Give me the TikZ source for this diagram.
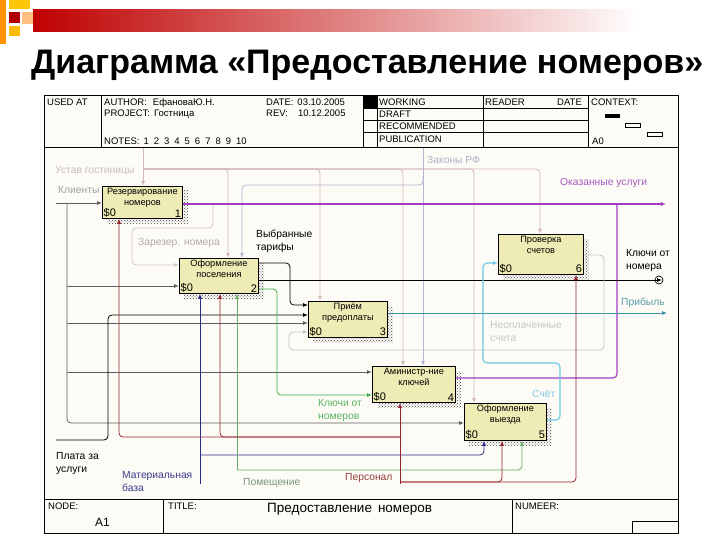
\documentclass[tikz,border=0pt]{standalone}
\usepackage{fontspec}
\setmainfont{Liberation Sans}
\usetikzlibrary{arrows.meta,patterns,calc}
\definecolor{cream}{RGB}{252,251,246}
\definecolor{boxfill}{RGB}{238,236,180}
\definecolor{cgray}{RGB}{95,95,95}
\definecolor{lgray}{RGB}{160,160,160}
\definecolor{ust}{RGB}{214,184,184}
\definecolor{ustl}{RGB}{200,188,188}
\definecolor{zak}{RGB}{182,182,212}
\definecolor{zakl}{RGB}{178,178,198}
\definecolor{zar}{RGB}{208,200,200}
\definecolor{pur}{RGB}{165,60,200}
\definecolor{purl}{RGB}{165,90,195}
\definecolor{tealc}{RGB}{60,145,160}
\definecolor{teall}{RGB}{90,155,170}
\definecolor{cyn}{RGB}{105,200,228}
\definecolor{cynl}{RGB}{130,200,225}
\definecolor{neo}{RGB}{198,198,198}
\definecolor{grn}{RGB}{55,175,75}
\definecolor{grnl}{RGB}{90,180,100}
\definecolor{grn2}{RGB}{105,170,105}
\definecolor{grn2l}{RGB}{120,150,120}
\definecolor{blu}{RGB}{40,40,140}
\definecolor{blul}{RGB}{60,60,140}
\definecolor{redc}{RGB}{150,35,45}
\definecolor{redl}{RGB}{150,60,60}
\tikzset{
  arr/.style={-{Latex[length=5pt,width=4pt]}},
  ln/.style={line width=0.8pt, rounded corners=4pt},
  boxst/.style={draw, fill=boxfill, line width=0.8pt, inner sep=0pt},
  boxtitle/.style={font=\fontsize{9.2}{10.5}\selectfont, align=center, inner sep=0.5pt},
  boxcost/.style={font=\fontsize{11}{11}\selectfont, inner sep=1.5pt},
  lbl/.style={font=\fontsize{10.3}{13}\selectfont, inner sep=0pt, anchor=base west, align=left},
  hd/.style={font=\fontsize{9.5}{11}\selectfont, inner sep=0pt, anchor=base west},
  shad/.style={pattern=crosshatch dots, pattern color=black!75}
}
\newcommand\idefbox[7]{%
  \node[boxst, minimum width=#4pt, minimum height=#5pt, anchor=north west] (#1) at (#2,#3) {};
  \fill[shad] ($(#1.north east)+(0.5,5)$) rectangle ($(#1.south east)+(5,5)$);
  \fill[shad] ($(#1.south west)+(5,0.5)$) rectangle ($(#1.south east)+(0.5,5)$);
  \node[boxtitle, anchor=north] (#1t) at ($(#1.north)+(0,1.5)$) {#6};
  \node[boxcost, anchor=south west] (#1c) at (#1.south west) {\$0};
  \node[boxcost, anchor=south east] (#1n) at (#1.south east) {#7};
}
\begin{document}
\begin{tikzpicture}[x=1pt,y=-1pt]
\useasboundingbox (0,0) rectangle (720,540);
\fill[white] (0,0) rectangle (720,540);
% top decoration
\shade[left color=red!75!black, right color=white] (33,10) rectangle (640,32);
\fill[white] (640,10) rectangle (720,32);
\fill[orange!85!yellow] (0,0) rectangle (6,44);
\fill[yellow!60!orange] (9,0) rectangle (30,9);
\fill[red!70!black] (9,12) rectangle (20,23);
\fill[orange!50!white] (22,12) rectangle (33,24);
\fill[yellow!50!orange] (9,26) rectangle (20,36);
% title
\node[anchor=base west, inner sep=0pt, font=\bfseries\fontsize{34}{34}\selectfont] (title) at (31,74) {Диаграмма «Предоставление номеров»};
% frame
\fill[cream] (44,95) rectangle (678,533);
\draw[line width=0.8pt] (44,95) rectangle (678,533);
\draw[line width=0.8pt] (44,147) -- (678,147);
\draw[line width=0.8pt] (44,499) -- (678,499);
\foreach \xx in {101,363,377,483,588} \draw[line width=0.8pt] (\xx,95) -- (\xx,147);
\foreach \yy in {108,120,132} \draw[line width=0.6pt] (363,\yy) -- (588,\yy);
\fill (363,95) rectangle (377,108);
\draw[line width=0.8pt] (163,499) -- (163,533);
\draw[line width=0.8pt] (512,499) -- (512,533);
\draw[line width=0.8pt] (632,521) -- (632,533);
\draw[line width=0.8pt] (632,521) -- (678,521);
% context marks
\fill (605,114) rectangle (620,118);
\draw[line width=0.6pt] (625,123) rectangle (640,127);
\draw[line width=0.6pt] (647,132) rectangle (662,136);
% header text
\node[hd] (usedat) at (47,106) {USED AT};
\node[hd] (author) at (104,106) {AUTHOR:\hspace{6pt}ЕфановаЮ.Н.};
\node[hd] (project) at (104,117) {PROJECT:\hspace{4pt}Гостница};
\node[hd] (date) at (266,106) {DATE:\hspace{4pt}03.10.2005};
\node[hd] (rev) at (266,117) {REV:\hspace{10pt}10.12.2005};
\node[hd] (notes) at (104,145) {NOTES:\hspace{4pt}1\hspace{5pt}2\hspace{5pt}3\hspace{5pt}4\hspace{5pt}5\hspace{5pt}6\hspace{5pt}7\hspace{5pt}8\hspace{5pt}9\hspace{5pt}10};
\node[hd] (working) at (379,106) {WORKING};
\node[hd] (draft) at (379,118) {DRAFT};
\node[hd] (recom) at (379,130) {RECOMMENDED};
\node[hd] (publ) at (379,143) {PUBLICATION};
\node[hd] (reader) at (485,106) {READER};
\node[hd] (rdate) at (557,106) {DATE};
\node[hd] (context) at (591,106) {CONTEXT:};
\node[hd] (a0) at (592,145) {A0};
% footer text
\node[hd] (nodel) at (48,509) {NODE:};
\node[hd, font=\fontsize{12}{12}\selectfont] (a1) at (95,526) {A1};
\node[hd] (titlel) at (168,509) {TITLE:};
\node[hd, font=\fontsize{13.5}{13.5}\selectfont] (ftitle) at (267,512) {Предоставление\hspace{6pt}номеров};
\node[hd] (numeer) at (515,509) {NUMEER:};
% boxes
\idefbox{b1}{102}{186}{80}{32}{Резервирование\\номеров}{1}
\idefbox{b2}{179}{258}{79}{35}{Оформление\\поселения}{2}
\idefbox{b3}{308}{301}{79}{36}{Приём\\предоплаты}{3}
\idefbox{b4}{372}{366}{83}{36}{Аминистр-ние\\ключей}{4}
\idefbox{b5}{464}{403}{82}{37}{Оформление\\выезда}{5}
\idefbox{b6}{498}{234}{85}{40}{Проверка\\счетов}{6}
% free-end coordinates
\coordinate (cli) at (56,203);
\coordinate (ustav) at (143,148);
\coordinate (zakon) at (423,148);
\coordinate (okaz) at (666,204);
\coordinate (klo) at (662,280);
\coordinate (prib) at (667,313);
\coordinate (plata) at (56,440);
\coordinate (matb) at (200,484);
\coordinate (pomes) at (237,470);
\coordinate (pers) at (400,484);
% controls
\draw[ln, ust, arr] (ustav) -- (b1.north -| ustav);
\foreach \xx/\bb in {228/b2,320/b3,403/b4,474/b5,540/b6}
  \draw[ln, ust, arr] (143,169) -- (\xx,169) -- (\bb.north -| \xx,0);
\draw[ln, zak, arr] (zakon) -- (b4.north -| zakon);
\draw[ln, zak, arr] (423,176) -- (423,185) -- (242,185) -- (b2.north -| 242,0);
% outputs / inputs
\draw[ln, zar, arr] (213,204) -- (213,228) -- (132,228) -- (132,265) -- (b2.west |- 0,265);
\draw[ln, pur, line width=1.1pt, arr] (b1.east |- 0,204) -- (okaz);
\draw[ln, pur, line width=1.1pt] (b4.east |- 0,378) -- (617,378) -- (617,204);
\draw[ln, cgray, arr] (cli) -- (b1.west |- cli);
\draw[ln, cgray, arr] (67,203) -- (67,423) -- (b5.west |- 0,423);
\draw[ln, cgray, arr] (67,286) -- (b2.west |- 0,286);
\draw[ln, cgray, arr] (67,323) -- (b3.west |- 0,323);
\draw[ln, cgray, arr] (67,372) -- (b4.west |- 0,372);
\draw[ln, black, arr] (b2.east |- 0,263) -- (290,263) -- (290,305) -- (b3.west |- 0,305);
\draw[ln, black, arr] (b2.east |- 0,280) -- (klo);
\draw[black, line width=0.7pt] (klo) ++(-3,0) circle (4);
\draw[ln, black, arr] (plata) -- (108,440) -- (108,315) -- (b3.west |- 0,315);
\draw[ln, tealc, arr] (b3.east |- 0,313) -- (prib);
\draw[ln, grn, arr] (b2.east |- 0,289) -- (277,289) -- (277,395) -- (b4.west |- 0,395);
\draw[ln, neo, arr] (b6.east |- 0,255) -- (604,255) -- (604,350) -- (289,350) -- (289,332) -- (b3.west |- 0,332);
\draw[ln, cyn, line width=1.1pt, arr] (b5.east |- 0,420) -- (560,420) -- (560,363) -- (483,363) -- (483,263) -- (b6.west |- 0,263);
% mechanisms
\draw[ln, blu, arr] (matb) -- (b2.south -| matb);
\draw[ln, blu, arr] (200,455) -- (484,455) -- (b5.south -| 484,0);
\draw[ln, grn2, arr] (pomes) -- (b2.south -| pomes);
\draw[ln, grn2, arr] (pomes) -- (522,470) -- (b5.south -| 522,0);
\draw[ln, redc, arr] (pers) -- (b4.south -| pers);
\draw[ln, redc, arr] (400,482) -- (502,482) -- (b5.south -| 502,0);
\draw[ln, redc, arr] (400,482) -- (576,482) -- (b6.south -| 576,0);
\draw[ln, redc, arr] (400,437) -- (119,437) -- (b1.south -| 119,0);
\draw[ln, redc, arr] (400,437) -- (220,437) -- (b2.south -| 220,0);
% labels (base = baseline of last line)
\node[lbl, text=ustl] (lust) at (55,174) {Устав гостиницы};
\node[lbl, text=lgray] (lcli) at (58,194) {Клиенты};
\node[lbl, text=zar!85!black] (lzar) at (138,245) {Зарезер. номера};
\node[lbl, text=zakl] (lzak) at (427,164) {Законы РФ};
\node[lbl, text=purl] (lokaz) at (560,186) {Оказанные услуги};
\node[lbl] (lvyb) at (256,250) {Выбранные\\тарифы};
\node[lbl] (lklo) at (626,269) {Ключи от\\номера};
\node[lbl, text=teall] (lprib) at (621,305) {Прибыль};
\node[lbl, text=neo] (lneo) at (490,341) {Неоплаченные\\счета};
\node[lbl, text=cynl] (lsch) at (532,397) {Счёт};
\node[lbl, text=grnl] (lklm) at (318,419) {Ключи от\\номеров};
\node[lbl] (lpl) at (56,472) {Плата за\\услуги};
\node[lbl, text=blul] (lmat) at (122,491) {Материальная\\база};
\node[lbl, text=grn2l] (lpom) at (243,485) {Помещение};
\node[lbl, text=redl] (lper) at (345,480) {Персонал};
\end{tikzpicture}
\end{document}
